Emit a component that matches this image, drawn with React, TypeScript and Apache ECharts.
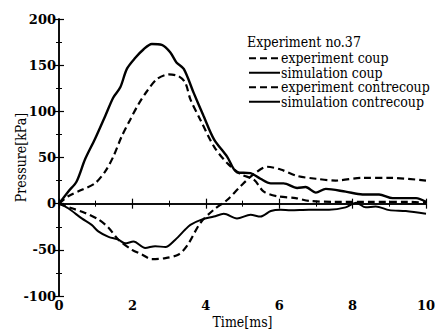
import React, { useEffect, useRef } from "react";
import * as echarts from "echarts";

const xTicks = [0, 2, 4, 6, 8, 10];
const yTicks = [-100, -50, 0, 50, 100, 150, 200];

const tExpCoup = [0, 0.25, 0.62, 0.98, 1.26, 1.48, 1.71, 1.94, 2.17, 2.4, 2.67, 2.99, 3.26, 3.44, 3.58, 3.85, 4.22, 4.58, 4.95, 5.31, 5.58, 5.95, 6.45, 6.81, 7.5, 8.5, 9.5, 10];
const vExpCoup = [0, 8, 15, 22, 35, 51, 73, 91, 108, 122, 135, 140, 138, 131, 113, 91, 62, 44, 32, 26, 13, 8, 6, 3, 2, 2, 2, 1];

const tSimCoup = [0, 0.25, 0.48, 0.71, 0.98, 1.26, 1.48, 1.67, 1.85, 2.08, 2.3, 2.53, 2.8, 3.03, 3.2, 3.4, 3.67, 3.94, 4.22, 4.58, 4.85, 5.22, 5.49, 5.77, 6.12, 6.49, 6.72, 7.0, 7.27, 7.81, 8.27, 8.72, 9.09, 9.45, 9.73, 10];
const vSimCoup = [0, 13, 24, 48, 70, 95, 115, 126, 146, 158, 167, 173, 172, 164, 153, 146, 120, 95, 70, 51, 34, 33, 27, 22, 22, 17, 18, 12, 16, 13, 10, 10, 6, 6, 6, 2];

const tExpContre = [0, 0.35, 0.71, 1.07, 1.35, 1.62, 1.99, 2.26, 2.53, 2.9, 3.26, 3.5, 3.85, 4.22, 4.58, 4.95, 5.31, 5.67, 6.04, 6.49, 7.0, 7.54, 8.27, 9.0, 10];
const vExpContre = [0, -5, -10, -17, -26, -39, -50, -55, -60, -59, -55, -45, -21, -6.5, 4, 19, 32, 40, 37, 30, 27, 25, 28, 28, 25];

const tSimContre = [0, 0.25, 0.62, 0.89, 1.07, 1.35, 1.62, 1.8, 2.03, 2.35, 2.62, 2.9, 3.17, 3.44, 3.58, 3.9, 4.22, 4.49, 4.85, 5.22, 5.49, 5.77, 6.04, 6.31, 6.81, 7.36, 7.81, 8.09, 8.36, 8.63, 9.0, 9.45, 10];
const vSimContre = [0, -5, -16, -23, -30, -36, -39, -43, -41, -48, -46, -47, -39, -28, -23, -17, -14, -11, -16, -12, -14, -8, -6.5, -7, -6.5, -6.5, -4, 1, -4, -3, -7, -8, -11];

const seriesNames = ["experiment coup", "simulation coup", "experiment contrecoup", "simulation contrecoup"];

const zip = (t: number[], v: number[]) => t.map((x, i) => [x, v[i]]);

const FONT = "DejaVu Serif Condensed";
const FONT_NUM = "DejaVu Serif";

export default function App() {
  const ref = useRef<HTMLDivElement>(null);
  useEffect(() => {
    if (!ref.current) return;
    const chart = echarts.init(ref.current, null, { renderer: "svg" });
    const tick = { show: true, inside: true, length: 5, lineStyle: { color: "#000", width: 1.2 } };
    const minor = { show: true, splitNumber: 2, length: 3, lineStyle: { color: "#000", width: 1 } };
    const line = { show: true, lineStyle: { color: "#000", width: 1.5 } };
    const axisCommonX = {
      type: "value", min: 0, max: 10, interval: 2,
      splitLine: { show: false }, axisLine: line, axisTick: tick, minorTick: minor,
    };
    const axisCommonY = {
      type: "value", min: -100, max: 200, interval: 50,
      splitLine: { show: false }, axisLine: line, axisTick: tick, minorTick: minor,
    };
    const dashed = [7, 4];
    chart.setOption({
      animation: false,
      backgroundColor: "#fff",
      grid: { left: 59, top: 19, right: 9, bottom: 33, containLabel: false, outerBoundsMode: "none" },
      title: {
        text: "Experiment no.37",
        left: 247,
        top: 35,
        padding: 0,
        textStyle: { fontFamily: FONT, fontSize: 14, fontWeight: "normal", color: "#000" },
      },
      legend: {
        orient: "vertical",
        left: 248,
        top: 51,
        padding: 0,
        itemWidth: 31,
        itemHeight: 10,
        itemGap: 0,
        data: seriesNames,
        itemStyle: { opacity: 0 },
        textStyle: { fontFamily: FONT, fontSize: 14, color: "#000", lineHeight: 14.5, padding: [0, 0, 0, -4] },
      },
      xAxis: [
        {
          ...axisCommonX,
          position: "bottom",
          name: "Time[ms]",
          nameLocation: "middle",
          nameGap: 19,
          nameMoveOverlap: false,
          nameTextStyle: { fontFamily: FONT, fontSize: 14, color: "#000" },
          axisLabel: {
            margin: 3,
            fontFamily: FONT_NUM, fontSize: 13, fontWeight: "bold", color: "#000",
            customValues: xTicks,
          },
        },
        { ...axisCommonX, position: "top", axisLabel: { show: false } },
      ],
      yAxis: [
        {
          ...axisCommonY,
          position: "left",
          name: "Pressure[kPa]",
          nameLocation: "middle",
          nameGap: 31,
          nameMoveOverlap: false,
          nameTextStyle: { fontFamily: FONT, fontSize: 14, color: "#000" },
          axisLabel: {
            margin: 3,
            fontFamily: FONT_NUM, fontSize: 13, fontWeight: "bold", color: "#000",
            customValues: yTicks,
          },
        },
        { ...axisCommonY, position: "right", axisLabel: { show: false } },
      ],
      series: [
        {
          name: seriesNames[0], type: "line", data: zip(tExpCoup, vExpCoup),
          symbol: "none", smooth: 0.3,
          lineStyle: { color: "#000", width: 2.2, type: dashed }, itemStyle: { color: "#000" },
        },
        {
          name: seriesNames[1], type: "line", data: zip(tSimCoup, vSimCoup),
          symbol: "none", smooth: 0.3,
          lineStyle: { color: "#000", width: 2.4, type: "solid" }, itemStyle: { color: "#000" },
        },
        {
          name: seriesNames[2], type: "line", data: zip(tExpContre, vExpContre),
          symbol: "none", smooth: 0.3,
          lineStyle: { color: "#000", width: 2.2, type: dashed }, itemStyle: { color: "#000" },
        },
        {
          name: seriesNames[3], type: "line", data: zip(tSimContre, vSimContre),
          symbol: "none", smooth: 0.3,
          lineStyle: { color: "#000", width: 2, type: "solid" }, itemStyle: { color: "#000" },
        },
      ],
    });
    return () => chart.dispose();
  }, []);
  return (
    <div
      ref={ref}
      style={{ position: "absolute", left: 0, top: 0, width: 435, height: 329, background: "#fff" }}
    />
  );
}
